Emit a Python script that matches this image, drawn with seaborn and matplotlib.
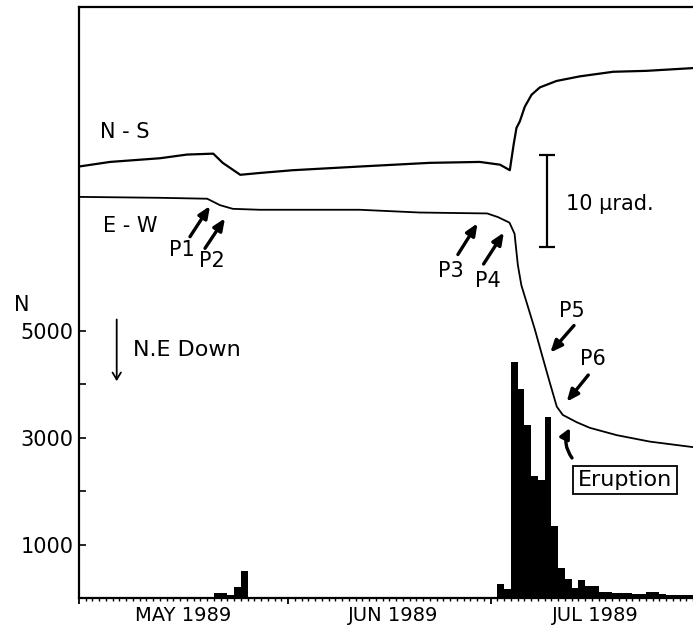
import numpy as np
import pandas as pd
import matplotlib
matplotlib.use('Agg')
import matplotlib.pyplot as plt
import seaborn as sns

# Daily earthquake counts
MAY_START = '1989-05-21'
may_counts = [90, 90, 50, 210, 510, 20, 15, 10]
JUL_START = '1989-07-02'
jul_counts = [260, 170, 4420, 3910, 3240, 2280, 2210, 3390, 1350, 560,
              360, 190, 340, 230, 230, 110, 110, 95, 95, 100,
              80, 80, 115, 115, 80, 60, 60, 50, 50]

# Tilt records (days since 1 May 1989, tilt in micro-radians, arbitrary offset)
ns_day = [0, 4.6, 12.0, 16.0, 19.9, 21.3, 23.9, 26.8, 31.7, 41.6, 52.0, 59.4,
          62.4, 63.85, 64.44, 64.84, 65.33, 66.07, 67.07, 68.3, 70.77, 74.22,
          79.16, 84.1, 91.0]
ns_tilt = [46.9, 47.4, 47.8, 48.2, 48.3, 47.3, 46.0, 46.2, 46.5, 46.9, 47.3, 47.4,
           47.1, 46.5, 49.4, 51.1, 51.8, 53.4, 54.7, 55.5, 56.2, 56.7,
           57.2, 57.3, 57.6]
ew_day = [0, 12.0, 19.0, 20.9, 22.8, 26.8, 41.6, 50.5, 60.5, 62.1, 63.8, 64.55,
          65.04, 65.56, 66.31, 67.56, 68.74, 69.78, 70.81, 71.7, 73.78, 75.7,
          79.7, 84.6, 91.0]
ew_tilt = [43.6, 43.5, 43.4, 42.7, 42.3, 42.2, 42.2, 41.9, 41.8, 41.4, 40.8, 39.6,
           36.2, 34.0, 32.2, 29.2, 26.1, 23.4, 20.8, 19.9, 19.1, 18.5,
           17.7, 17.0, 16.4]

months = ['MAY 1989', 'JUN 1989', 'JUL 1989']
month_start = ['1989-05-01', '1989-06-01', '1989-07-01']
SCALE_URAD = 10

ORIGIN = pd.Timestamp('1989-05-01')


def day_index(start, n):
    dates = pd.date_range(start, periods=n, freq='D')
    return (dates - ORIGIN).days.to_numpy()


quakes = pd.DataFrame({
    'day': np.concatenate([day_index(MAY_START, len(may_counts)),
                           day_index(JUL_START, len(jul_counts))]) + 0.5,
    'count': may_counts + jul_counts,
})
month_day = (pd.to_datetime(month_start) - ORIGIN).days.to_numpy()

sns.set_style('white')
plt.rcParams['font.family'] = ['DejaVu Sans']
plt.rcParams['text.color'] = 'black'
plt.rcParams['xtick.color'] = 'black'
plt.rcParams['ytick.color'] = 'black'

W, H = 693, 625
fig = plt.figure(figsize=(W / 100, H / 100), dpi=100)


def fxy(x, y):
    return (x / W, 1 - y / H)


ax = fig.add_axes([79 / W, 1 - 598 / H, 614 / W, 591 / H])

sns.histplot(data=quakes, x='day', weights='count', binwidth=1, binrange=(0, 91),
             color='black', alpha=1, edgecolor='black', linewidth=0, ax=ax)
ax.set_xlim(0, 91)
ax.set_ylim(0, 11067)
ax.set_xlabel('')
ax.set_ylabel('')

for side in ['left', 'bottom', 'top']:
    ax.spines[side].set_linewidth(1.6)
    ax.spines[side].set_color('black')
ax.spines['right'].set_visible(False)

ax.set_yticks([1000, 2000, 3000, 4000, 5000])
ax.set_yticklabels(['1000', '', '3000', '', '5000'])
ax.tick_params(axis='y', left=True, direction='in', length=5, width=1.2,
               labelsize=15, pad=4, colors='black')
ax.set_xticks(month_day)
ax.set_xticklabels([])
ax.set_xticks(np.arange(0, 92), minor=True)
ax.tick_params(axis='x', which='major', bottom=True, direction='out', length=4,
               width=1.3, colors='black')
ax.tick_params(axis='x', which='minor', bottom=True, direction='out', length=2.2,
               width=1.0, colors='black')
for m, d in zip(months, month_day):
    ax.text(d + 15.5, -0.029, m, transform=ax.get_xaxis_transform(),
            ha='center', va='center', fontsize=14, color='black')

# tilt traces on a hidden twin axis
ax2 = ax.twinx()
sns.lineplot(x=ns_day, y=ns_tilt, ax=ax2, color='black', lw=1.6, sort=False)
sns.lineplot(x=ew_day, y=ew_tilt, ax=ax2, color='black', lw=1.3, sort=False)
ax2.set_xlim(0, 91)
ax2.set_ylim(0, 64.24)
ax2.axis('off')

# 10 micro-radian scale bar
ax2.errorbar(x=[69.3], y=[43.15], yerr=[SCALE_URAD / 2], color='black', lw=1.6,
             capsize=6, capthick=1.6)
fig.text(*fxy(566, 204), '10 μrad.', fontsize=15, va='center', ha='left')

fig.text(*fxy(100, 132), 'N - S', fontsize=15, va='center', ha='left')
fig.text(*fxy(103, 226), 'E - W', fontsize=15, va='center', ha='left')
fig.text(*fxy(22, 305), 'N', fontsize=15, va='center', ha='center')

# N.E Down arrow
fig.add_artist(matplotlib.patches.FancyArrowPatch(
    fxy(116.7, 316.7), fxy(116.7, 384), transform=fig.transFigure,
    arrowstyle='->,head_length=5,head_width=3', lw=1.3, color='black'))
fig.text(*fxy(133, 350), 'N.E Down', fontsize=16, va='center', ha='left')

arrow_kw = dict(arrowstyle='-|>,head_length=0.7,head_width=0.3', lw=2.4,
                color='black', shrinkA=0, shrinkB=0)
p_arrows = [
    ('P1', (181.5, 250), (190, 236.7), (210, 206)),
    ('P2', (211.5, 261), (205, 248.3), (225, 218.3)),
    ('P3', (451, 270.5), (457.9, 254.5), (477.5, 223.3)),
    ('P4', (488, 281), (483.6, 264), (503.9, 232.5)),
    ('P5', (571.5, 311), (574, 325.5), (550.3, 352.6)),
    ('P6', (593, 359), (588.3, 375), (566.7, 401.7)),
]
for label, lpos, tail, tip in p_arrows:
    fig.text(*fxy(*lpos), label, fontsize=15, ha='center', va='center')
    ax.annotate('', xy=fxy(*tip), xytext=fxy(*tail), xycoords='figure fraction',
                textcoords='figure fraction', arrowprops=arrow_kw)

# eruption marker
ax.annotate('', xy=fxy(570, 428), xytext=fxy(572, 458), xycoords='figure fraction',
            textcoords='figure fraction',
            arrowprops=dict(arrowstyle='-|>,head_length=0.6,head_width=0.3', lw=2.4,
                            color='black', shrinkA=0, shrinkB=0,
                            connectionstyle='arc3,rad=-0.3'))
fig.text(*fxy(625, 480), 'Eruption', fontsize=16, ha='center', va='center',
         bbox=dict(boxstyle='square,pad=0.2', fc='white', ec='black', lw=1.3))

fig.savefig('out.png', dpi=100)
